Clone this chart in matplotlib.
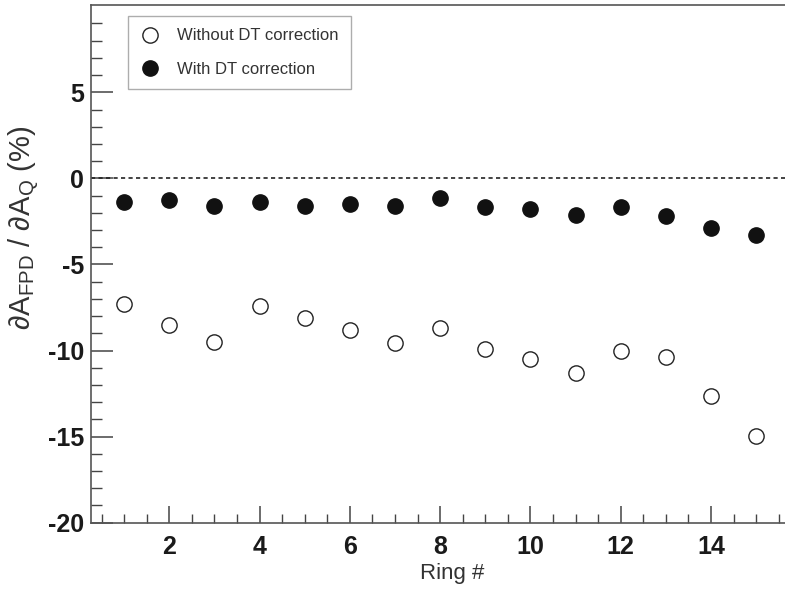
import matplotlib
matplotlib.use("Agg")
import matplotlib.pyplot as plt
from matplotlib.ticker import FixedLocator, MultipleLocator

plt.rcParams['font.family'] = ['Liberation Sans', 'DejaVu Sans']
plt.rcParams['mathtext.fontset'] = 'custom'
plt.rcParams['mathtext.rm'] = 'Liberation Sans'
plt.rcParams['mathtext.it'] = 'Liberation Sans:italic'
plt.rcParams['mathtext.bf'] = 'Liberation Sans:bold'
plt.rcParams['axes.unicode_minus'] = False

rings = [1, 2, 3, 4, 5, 6, 7, 8, 9, 10, 11, 12, 13, 14, 15]
without_dt = [-7.29, -8.51, -9.48, -7.39, -8.13, -8.80, -9.58, -8.67,
              -9.91, -10.51, -11.32, -10.02, -10.35, -12.62, -14.94]
with_dt = [-1.39, -1.25, -1.58, -1.37, -1.58, -1.49, -1.60, -1.12,
           -1.64, -1.80, -2.13, -1.64, -2.18, -2.86, -3.31]
label_without = "Without DT correction"
label_with = "With DT correction"
x_major = [2, 4, 6, 8, 10, 12, 14]
y_major = [-20, -15, -10, -5, 0, 5]

W, H = 785, 592
fig = plt.figure(figsize=(W / 100, H / 100), dpi=100)
left_px, right_px, top_px, bottom_px = 90.7, 785, 4.7, 522.7
ax = fig.add_axes([left_px / W, 1 - bottom_px / H,
                   (right_px - left_px) / W, (bottom_px - top_px) / H])

ax.plot(rings, without_dt, linestyle='none', marker='o', ms=11,
        mfc='none', mec='#222222', mew=1.0, label=label_without, zorder=3)
ax.plot(rings, with_dt, linestyle='none', marker='o', ms=11,
        mfc='#111111', mec='#111111', mew=1.0, label=label_with, zorder=3)

ax.axhline(0, color='#222222', lw=1.2, linestyle=(0, (2.5, 2)), zorder=2)

ax.set_xlim(0.26, 15.64)
ax.set_ylim(-20, 10.09)

ax.xaxis.set_major_locator(FixedLocator(x_major))
ax.xaxis.set_minor_locator(MultipleLocator(0.5))
ax.yaxis.set_major_locator(FixedLocator(y_major))
ax.yaxis.set_minor_locator(FixedLocator([v for v in range(-19, 10) if v % 5 != 0]))

tc = '#444444'
ax.tick_params(axis='y', which='major', direction='in', length=16, width=1.1,
               color=tc, pad=5, labelsize=18, labelcolor='#1a1a1a')
ax.tick_params(axis='y', which='minor', direction='in', length=8, width=1.0, color=tc)
ax.tick_params(axis='x', which='major', direction='in', length=12.5, width=1.1,
               color=tc, pad=9, labelsize=18, labelcolor='#1a1a1a')
ax.tick_params(axis='x', which='minor', direction='in', length=6.2, width=1.0, color=tc)
for lab in ax.get_xticklabels() + ax.get_yticklabels():
    lab.set_fontweight('bold')

ax.spines['right'].set_visible(False)
for s in ['left', 'bottom']:
    ax.spines[s].set_color('#555555')
    ax.spines[s].set_linewidth(1.2)
ax.spines['top'].set_color('#555555')
ax.spines['top'].set_linewidth(1.2)

fig.text(24 / W, 1 - 228 / H,
         r'$\partial$A$_{\mathrm{FPD}}$ / $\partial$A$_{\mathrm{Q}}$ (%)',
         rotation=90, ha='center', va='center', fontsize=21, color='#333333')
fig.text(452 / W, 1 - 574 / H, 'Ring #', ha='center', va='center',
         fontsize=16, color='#333333')

leg = ax.legend(loc='upper left', bbox_to_anchor=(128 / W, 1 - 16 / H),
                bbox_transform=fig.transFigure, borderaxespad=0,
                fontsize=12, frameon=True, fancybox=False, borderpad=0.75,
                labelspacing=1.1, handlelength=1.1, handletextpad=1.1,
                markerscale=1.0)
leg.get_frame().set_edgecolor('#999999')
leg.get_frame().set_linewidth(1.0)
for t in leg.get_texts():
    t.set_color('#333333')

fig.savefig('out.png', dpi=100)
